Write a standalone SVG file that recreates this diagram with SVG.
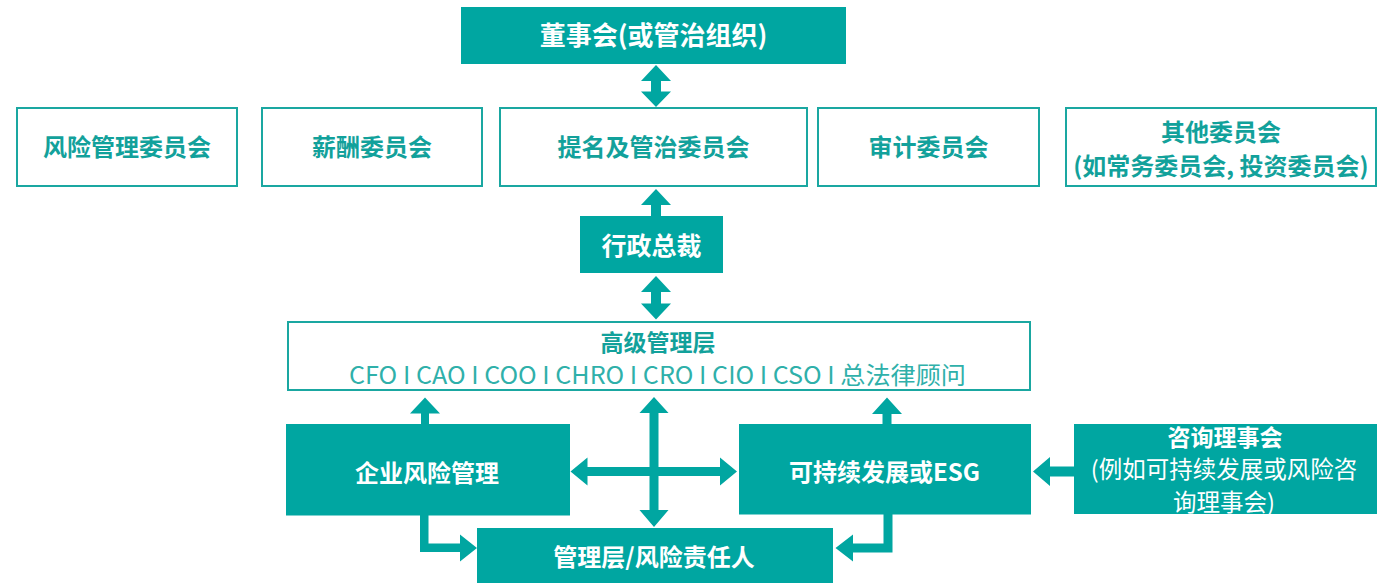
<svg xmlns="http://www.w3.org/2000/svg" width="1394" height="583" viewBox="0 0 1394 583">
<style>
text{font-family:"Noto Sans CJK SC","Noto Sans",sans-serif;text-anchor:middle}
.fill{fill:#00a6a1}
.out{fill:#fff;stroke:#1aa7a1;stroke-width:2}
.w{fill:#fff;font-weight:700;font-size:24px}
.wn{fill:#fff;font-weight:400;font-size:23.5px}
.t{fill:#12a19b;font-weight:700;font-size:24px}
.tn{fill:#2fb0aa;font-weight:400;font-size:24px}
.arr{fill:#00a6a1}
</style>
<rect width="1394" height="583" fill="#fff"/>
<g id="connectors">
<polygon class="arr" points="656,65 671,81 661,81 661,91.5 671,91.5 656,107 641,91.5 651,91.5 651,81 641,81"/>
<polygon class="arr" points="656,189 671,205 661,205 661,217 651,217 651,205 641,205"/>
<polygon class="arr" points="656,276 671,292 661,292 661,303.5 671,303.5 656,319.5 641,303.5 651,303.5 651,292 641,292"/>
<polygon class="arr" points="425,397.5 440,413.5 429,413.5 429,425 421,425 421,413.5 410,413.5"/>
<polygon class="arr" points="887,397.5 902,414 891.5,414 891.5,425 882.5,425 882.5,414 872,414"/>
<polygon class="arr" points="654,397 668.5,413 658.5,413 658.5,467 720,467 720,457.5 737,471.5 720,485.5 720,476 658.5,476 658.5,510 668.5,510 654,527 639.5,510 649.5,510 649.5,476 587.5,476 587.5,485.5 570.5,471.5 587.5,457.5 587.5,467 649.5,467 649.5,413 639.5,413"/>
<polygon class="arr" points="420,514 428.5,514 428.5,543.5 460,543.5 460,534.5 477,548 460,561.5 460,552 420,552"/>
<polygon class="arr" points="892.5,513.5 892.5,552.5 853,552.5 853,561.5 835.5,548 853,534.5 853,543.5 883.5,543.5 883.5,513.5"/>
<polygon class="arr" points="1033,471.5 1050,457 1050,466.5 1075,466.5 1075,476.5 1050,476.5 1050,486"/>
</g>
<g id="board">
<rect class="fill" x="461" y="7" width="385" height="57"/>
<text class="w" x="653.5" y="45" style="font-size:26px">董事会(或管治组织)</text>
</g>
<g id="risk-committee">
<rect class="out" x="17" y="108" width="220" height="78"/>
<text class="t" x="127" y="155.5">风险管理委员会</text>
</g>
<g id="remuneration-committee">
<rect class="out" x="262" y="108" width="220" height="78"/>
<text class="t" x="372" y="155.5">薪酬委员会</text>
</g>
<g id="nomination-committee">
<rect class="out" x="500" y="108" width="307" height="78"/>
<text class="t" x="653.5" y="155.5">提名及管治委员会</text>
</g>
<g id="audit-committee">
<rect class="out" x="818" y="108" width="221" height="78"/>
<text class="t" x="928.5" y="155.5">审计委员会</text>
</g>
<g id="other-committees">
<rect class="out" x="1066" y="108" width="310" height="78"/>
<text class="t" x="1221" y="141">其他委员会</text>
<text class="t" x="1221" y="175">(如常务委员会, 投资委员会)</text>
</g>
<g id="ceo">
<rect class="fill" x="580" y="216" width="143" height="57"/>
<text class="w" x="651.5" y="255" style="font-size:25px">行政总裁</text>
</g>
<g id="senior-management">
<rect class="out" x="288" y="322" width="742" height="68"/>
<text class="t" x="658" y="350.5" style="font-size:23px">高级管理层</text>
<text class="tn" x="657.5" y="383.5" textLength="617" lengthAdjust="spacingAndGlyphs">CFO I CAO I COO I CHRO I CRO I CIO I CSO I 总法律顾问</text>
</g>
<g id="erm">
<rect class="fill" x="286" y="424" width="284" height="91.5"/>
<text class="w" x="427" y="481.5">企业风险管理</text>
</g>
<g id="esg">
<rect class="fill" x="739" y="424" width="292" height="90.5"/>
<text class="w" x="884.5" y="481">可持续发展或ESG</text>
</g>
<g id="advisory-council">
<rect class="fill" x="1074" y="424" width="303" height="90"/>
<text class="w" x="1225" y="445.5" style="font-size:23px">咨询理事会</text>
<text class="wn" x="1224" y="478">(例如可持续发展或风险咨</text>
<text class="wn" x="1224" y="511">询理事会)</text>
</g>
<g id="risk-owners">
<rect class="fill" x="477" y="528" width="356" height="55"/>
<text class="w" x="654" y="566">管理层/风险责任人</text>
</g>
</svg>
